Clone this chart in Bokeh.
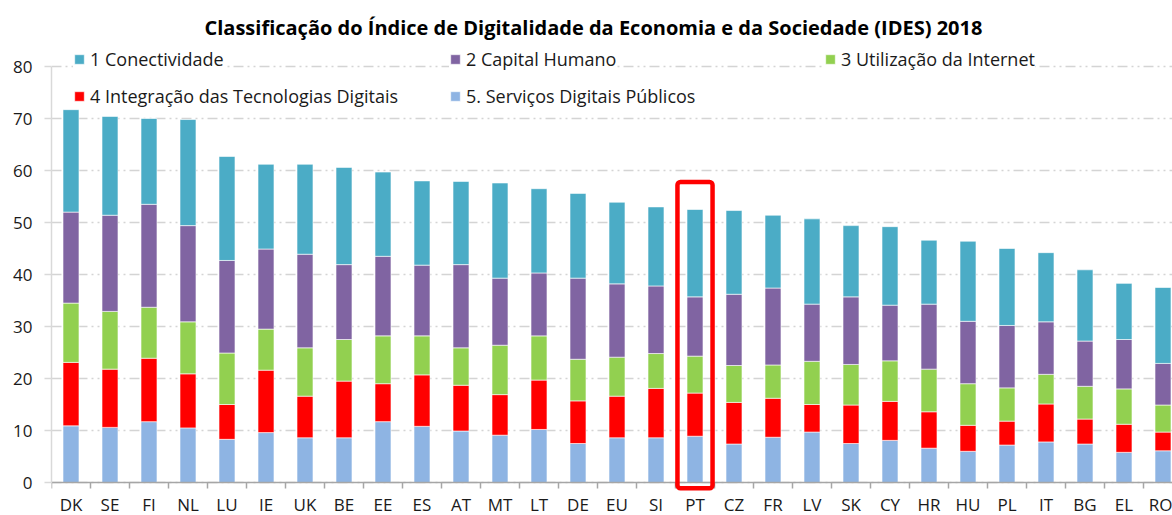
from bokeh.plotting import figure
from bokeh.models import (ColumnDataSource, Range1d, FixedTicker, Legend, LegendItem,
                          BoxAnnotation)
from bokeh.embed import file_html
from bokeh.resources import INLINE

# ---------------- data ----------------
countries = ["DK", "SE", "FI", "NL", "LU", "IE", "UK", "BE", "EE", "ES", "AT", "MT",
             "LT", "DE", "EU", "SI", "PT", "CZ", "FR", "LV", "SK", "CY", "HR", "HU",
             "PL", "IT", "BG", "EL", "RO"]
servicos = [10.9, 10.6, 11.7, 10.5, 8.3, 9.6, 8.6, 8.6, 11.7, 10.8, 9.9, 9.1,
            10.2, 7.5, 8.6, 8.6, 8.9, 7.4, 8.7, 9.7, 7.5, 8.1, 6.6, 6.0,
            7.2, 7.8, 7.4, 5.8, 6.1]
integracao = [12.2, 11.2, 12.2, 10.4, 6.7, 12.0, 8.0, 10.9, 7.3, 9.9, 8.8, 7.8,
              9.5, 8.2, 8.0, 9.5, 8.3, 8.0, 7.5, 5.3, 7.4, 7.5, 7.0, 5.0,
              4.6, 7.3, 4.8, 5.4, 3.6]
utilizacao = [11.4, 11.1, 9.8, 10.0, 9.9, 7.9, 9.3, 8.0, 9.2, 7.5, 7.2, 9.5,
              8.5, 8.0, 7.5, 6.7, 7.1, 7.1, 6.4, 8.3, 7.8, 7.8, 8.2, 8.0,
              6.4, 5.7, 6.3, 6.8, 5.2]
capital = [17.5, 18.5, 19.8, 18.5, 17.8, 15.4, 18.0, 14.4, 15.3, 13.6, 16.0, 12.9,
           12.1, 15.6, 14.1, 13.0, 11.4, 13.7, 14.8, 11.0, 13.0, 10.7, 12.5, 12.0,
           12.0, 10.1, 8.7, 9.5, 8.0]
conectividade = [19.7, 19.0, 16.5, 20.4, 20.0, 16.3, 17.3, 18.7, 16.2, 16.2, 16.0, 18.3,
                 16.2, 16.3, 15.7, 15.2, 16.8, 16.1, 14.0, 16.4, 13.7, 15.1, 12.3, 15.4,
                 14.8, 13.3, 13.7, 10.8, 14.6]
series_labels = ["1 Conectividade", "2 Capital Humano", "3 Utilização da Internet",
                 "4 Integração das Tecnologias Digitais", "5. Serviços Digitais Públicos"]
y_ticks = [0, 10, 20, 30, 40, 50, 60, 70, 80]
highlight = "PT"
title_text = "Classificação do Índice de Digitalidade da Economia e da Sociedade (IDES) 2018"

# ---------------- figure ----------------
FONT = "Open Sans"
n = len(countries)
xs = list(range(n))
px_per_cat = 39.0
px_per_unit = 5.2
frame_left, frame_top, frame_bottom, zero_px = 51, 40, 515, 482
frame_w = 1172 - frame_left
y_end = (zero_px - frame_top) / px_per_unit
y_start = -(frame_bottom - zero_px) / px_per_unit

src = ColumnDataSource(dict(x=xs, s5=servicos, s4=integracao, s3=utilizacao,
                            s2=capital, s1=conectividade))

p = figure(width=1172, height=515, output_backend="svg", toolbar_location=None,
           x_range=Range1d(-0.5, -0.5 + frame_w / px_per_cat),
           y_range=Range1d(y_start, y_end),
           min_border_left=frame_left, min_border_right=0, min_border_top=frame_top,
           min_border_bottom=515 - frame_bottom)
p.outline_line_color = None
p.background_fill_color = "white"
p.border_fill_color = "white"

p.title.text = title_text
p.title.text_font = FONT
p.title.text_font_style = "bold"
p.title.text_font_size = "20px"
p.title.align = "left"
p.title.offset = 153
p.title.standoff = 0
p.title.text_color = "black"

colors = ["#8EB4E3", "#FF0000", "#92D050", "#8064A2", "#4BACC6"]
rs = p.vbar_stack(["s5", "s4", "s3", "s2", "s1"], x="x", width=0.41, source=src,
                  fill_color=colors, line_color="white", line_width=0.6)

# axes
yax = p.yaxis[0]
yax.ticker = FixedTicker(ticks=y_ticks)
yax.bounds = (0, 80)
yax.axis_line_color = "#D9D9D9"
yax.axis_line_width = 1.5
yax.major_tick_line_color = "#D9D9D9"
yax.major_tick_line_width = 1.5
yax.major_tick_out = 7
yax.major_tick_in = 0
yax.minor_tick_line_color = None
yax.major_label_standoff = 12
yax.major_label_text_font = FONT
yax.major_label_text_font_size = "17px"
yax.major_label_text_color = "#1a1a1a"

xax = p.xaxis[0]
xax.fixed_location = 0
xax.ticker = FixedTicker(ticks=xs, minor_ticks=[i - 0.5 for i in range(n + 1)])
xax.major_label_overrides = {i: c for i, c in enumerate(countries)}
xax.axis_line_color = "#A6A6A6"
xax.axis_line_width = 1.5
xax.major_tick_line_color = None
xax.major_tick_out = 0
xax.major_tick_in = 0
xax.minor_tick_line_color = "#A6A6A6"
xax.minor_tick_line_width = 1.5
xax.minor_tick_out = 6
xax.minor_tick_in = 0
xax.major_label_standoff = 4
xax.major_label_text_font = FONT
xax.major_label_text_font_size = "17px"
xax.major_label_text_color = "#1a1a1a"

p.xgrid.grid_line_color = None
p.ygrid.ticker = FixedTicker(ticks=y_ticks)
p.ygrid.grid_line_color = "#D4D4D4"
p.ygrid.grid_line_width = 1.5
p.ygrid.grid_line_dash = "10 4 2 4 2 4"

# legends: one per entry, arranged in 2 rows x 3 columns
renderer_for = {series_labels[0]: rs[4], series_labels[1]: rs[3], series_labels[2]: rs[2],
                series_labels[3]: rs[1], series_labels[4]: rs[0]}
col_x = [22, 398, 773]
row_y = [frame_bottom - 71.0, frame_bottom - 108.0]
for k, lab in enumerate(series_labels):
    r, c = divmod(k, 3)
    lg = Legend(items=[LegendItem(label=lab, renderers=[renderer_for[lab]])],
                location=(col_x[c], row_y[r]), orientation="horizontal",
                glyph_width=12, glyph_height=12, label_standoff=5, spacing=0,
                padding=0, margin=0, border_line_color=None,
                background_fill_color="white", background_fill_alpha=1.0,
                label_text_font=FONT, label_text_font_size="18px",
                label_text_color="#1a1a1a")
    p.add_layout(lg, "center")

# highlight box around PT
hi = countries.index(highlight)
box = BoxAnnotation(left=hi - 0.45, right=hi + 0.45, bottom=-1.1, top=57.8,
                    fill_alpha=0, line_color="#FF0000", line_alpha=1.0, line_width=4.5,
                    border_radius=3)
p.add_layout(box)

open("out.html", "w").write(file_html(p, INLINE))
